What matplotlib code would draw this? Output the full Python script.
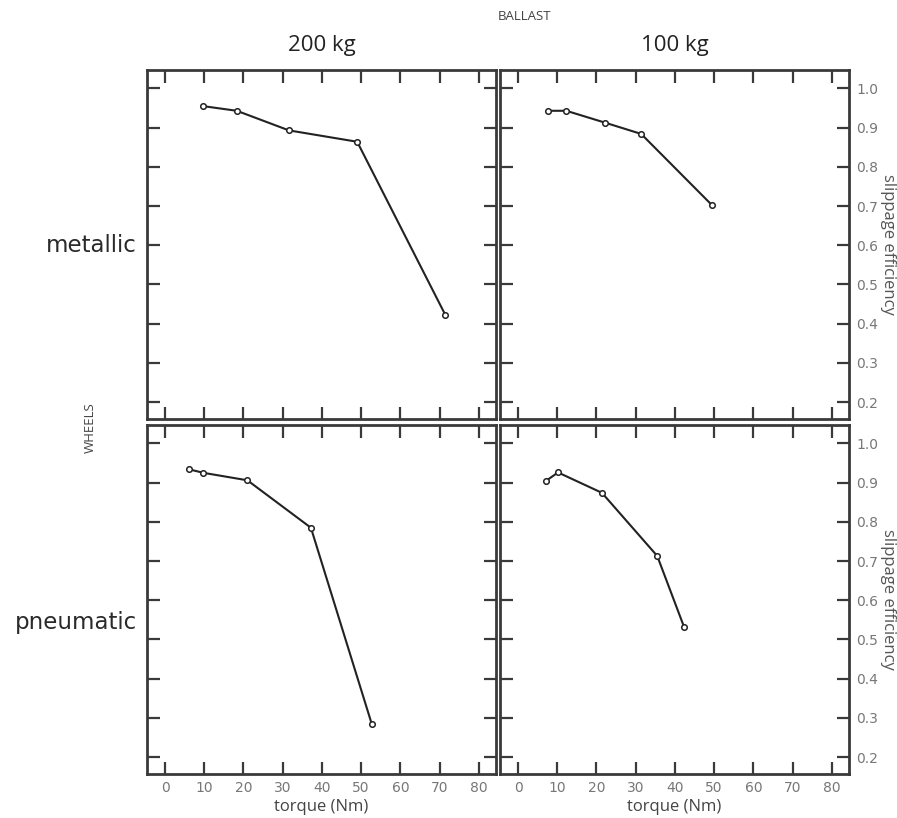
import matplotlib.pyplot as plt

# slippage efficiency vs torque, per wheel type and ballast
ballast = ["200 kg", "100 kg"]
wheels = ["metallic", "pneumatic"]

torque_met_200 = [9.6, 18.3, 31.6, 49.0, 71.5]
eff_met_200 = [0.955, 0.943, 0.893, 0.864, 0.422]
torque_met_100 = [7.6, 12.3, 22.1, 31.4, 49.5]
eff_met_100 = [0.943, 0.943, 0.913, 0.884, 0.702]
torque_pn_200 = [6.1, 9.8, 21.0, 37.2, 52.7]
eff_pn_200 = [0.934, 0.925, 0.906, 0.785, 0.285]
torque_pn_100 = [7.2, 10.2, 21.4, 35.5, 42.3]
eff_pn_100 = [0.905, 0.926, 0.874, 0.713, 0.533]

xticks = [0, 10, 20, 30, 40, 50, 60, 70, 80]
yticks = [0.2, 0.3, 0.4, 0.5, 0.6, 0.7, 0.8, 0.9, 1.0]

data = {
    (0, 0): (torque_met_200, eff_met_200),
    (0, 1): (torque_met_100, eff_met_100),
    (1, 0): (torque_pn_200, eff_pn_200),
    (1, 1): (torque_pn_100, eff_pn_100),
}

W, H = 897, 818
fig = plt.figure(figsize=(W / 100, H / 100), dpi=100)

lefts = [147, 500]
tops = [70, 425]
size = 349
frame = "#3a3a3a"
grey = "#777777"

for r in range(2):
    for c in range(2):
        ax = fig.add_axes([lefts[c] / W, 1 - (tops[r] + size) / H, size / W, size / H])
        x, y = data[(r, c)]
        ax.plot(x, y, color="#222222", lw=1.5, marker="o", ms=4,
                mfc="white", mec="#222222", mew=1.1)
        ax.set_xlim(-4.6, 84.4)
        ax.set_ylim(0.157, 1.047)
        ax.set_xticks(xticks)
        ax.set_yticks(yticks)
        for s in ax.spines.values():
            s.set_color(frame)
            s.set_linewidth(2)
        ax.tick_params(direction="in", length=9, width=1.6, color=frame,
                       top=True, bottom=True, left=True, right=True,
                       labelcolor=grey, labelsize=10, pad=5)
        ax.tick_params(labelleft=False, labelright=(c == 1),
                       labelbottom=(r == 1), labeltop=False)
        if r == 1:
            ax.set_xlabel("torque (Nm)", fontsize=12, color="#444444",
                          family="Open Sans", labelpad=3)
        if c == 1:
            ax.yaxis.set_label_position("right")
            ax.set_ylabel("slippage efficiency", fontsize=12, color="#555555",
                          family="Open Sans", rotation=-90, labelpad=13)

# column headers
for c, name in enumerate(ballast):
    fig.text((lefts[c] + size / 2) / W, 1 - 45 / H, name, ha="center", va="center",
             fontsize=16, family="Open Sans", color="#222222")
fig.text(525 / W, 1 - 17 / H, "BALLAST", ha="center", va="center",
         fontsize=9.5, family="Open Sans", color="#444444")

# row labels
fig.text(137 / W, 1 - 245 / H, wheels[0], ha="right", va="center",
         fontsize=16.5, family="DejaVu Sans", color="#2a2a2a")
fig.text(137 / W, 1 - 623 / H, wheels[1], ha="right", va="center",
         fontsize=16.5, family="DejaVu Sans", color="#2a2a2a")
fig.text(90 / W, 1 - 428 / H, "WHEELS", ha="center", va="center", rotation=90,
         fontsize=9.5, family="Open Sans", color="#444444")

fig.savefig("out.png", dpi=100)
